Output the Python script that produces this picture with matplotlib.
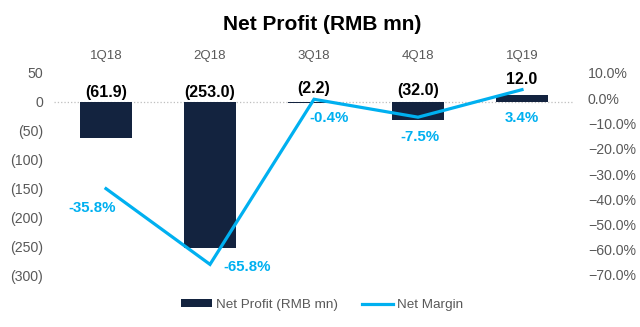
import matplotlib
matplotlib.use("Agg")
import matplotlib.pyplot as plt
from matplotlib.ticker import FuncFormatter, PercentFormatter

plt.rcParams['font.family'] = ['Liberation Sans', 'DejaVu Sans']

# data
quarters = ['1Q18', '2Q18', '3Q18', '4Q18', '1Q19']
net_profit = [-61.9, -253.0, -2.2, -32.0, 12.0]
net_margin = [-0.358, -0.658, -0.004, -0.075, 0.034]
profit_labels = ['(61.9)', '(253.0)', '(2.2)', '(32.0)', '12.0']
margin_labels = ['-35.8%', '-65.8%', '-0.4%', '-7.5%', '3.4%']

# label nudges (pixels)
profit_off = [(0, 9), (0, 9), (0, 13), (0, 11), (0, 15)]
margin_off = [(-14, -19), (37, -3), (15, -19), (2, -20), (0, -28)]

navy = '#13233F'
blue = '#00B0F0'
gray = '#595959'

fig = plt.figure(figsize=(6.4, 3.27), dpi=100)
ax = fig.add_axes([54/640, 1-275/327, 520/640, 202/327])
ax2 = ax.twinx()

x = list(range(len(quarters)))
ax.bar(x, net_profit, width=0.5, color=navy, label='Net Profit (RMB mn)', zorder=2)
ax.axhline(0, color='#BFBFBF', linestyle=':', lw=0.9, zorder=1)
ax.set_xlim(-0.5, len(quarters)-0.5)
ax.set_ylim(-300, 50)
ax.set_yticks(range(-300, 51, 50))
ax.yaxis.set_major_formatter(FuncFormatter(lambda v, p: f'({abs(v):.0f})' if v < 0 else f'{v:.0f}'))
ax.xaxis.tick_top()
ax.set_xticks(x)
ax.set_xticklabels(quarters)
ax.tick_params(axis='x', length=0, pad=8, labelsize=9.5, labelcolor=gray)
ax.tick_params(axis='y', length=0, pad=8, labelsize=10.2, labelcolor=gray)

for i, (v, t) in enumerate(zip(net_profit, profit_labels)):
    ax.annotate(t, (i, max(v, 0)), xytext=profit_off[i], textcoords='offset pixels',
                ha='center', va='center', fontsize=11.5, fontweight='bold', color='black')

ax2.plot(x, net_margin, color=blue, lw=2.3, label='Net Margin', solid_joinstyle='miter', zorder=3)
ax2.set_ylim(-0.7, 0.1)
ax2.set_yticks([i/10 for i in range(-7, 2)])
ax2.yaxis.set_major_formatter(PercentFormatter(1.0, decimals=1))
ax2.tick_params(axis='y', length=0, pad=10, labelsize=10.2, labelcolor=gray)

for i, (v, t) in enumerate(zip(net_margin, margin_labels)):
    ax2.annotate(t, (i, v), xytext=margin_off[i], textcoords='offset pixels',
                 ha='center', va='center', fontsize=10.8, fontweight='bold', color=blue)

for a in (ax, ax2):
    for s in a.spines.values():
        s.set_visible(False)

fig.text(0.503, 1-24/327, 'Net Profit (RMB mn)', ha='center', va='center',
         fontsize=15, fontweight='bold', color='black')

h1, l1 = ax.get_legend_handles_labels()
h2, l2 = ax2.get_legend_handles_labels()
leg = fig.legend(h1 + h2, l1 + l2, loc='center', bbox_to_anchor=(0.503, 1-305/327), ncol=2,
                 frameon=False, fontsize=9.7, handlelength=2.3, handleheight=0.5,
                 columnspacing=1.8, handletextpad=0.3)
for t in leg.get_texts():
    t.set_color(gray)

fig.savefig('out.png', dpi=100)
